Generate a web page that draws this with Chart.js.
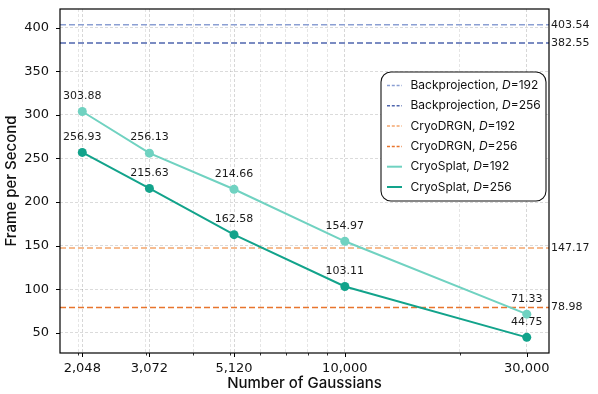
<!DOCTYPE html>
<html>
<head>
<meta charset="utf-8">
<script src="https://cdn.jsdelivr.net/npm/chart.js@4.4.0/dist/chart.umd.min.js"></script>
<style>
  html, body { margin: 0; padding: 0; background: #fff; }
  #wrap { width: 598px; height: 394px; }
</style>
</head>
<body>
<div id="wrap"><canvas id="fps"></canvas></div>
<script>
// --- data ---------------------------------------------------------
const gaussians = [2048, 3072, 5120, 10000, 30000];
const splatD192 = [303.88, 256.13, 214.66, 154.97, 71.33];
const splatD256 = [256.93, 215.63, 162.58, 103.11, 44.75];

const baselineNames = ['Backprojection', 'Backprojection', 'CryoDRGN', 'CryoDRGN'];
const baselineDims = [192, 256, 192, 256];
const baselineFps = [403.54, 382.55, 147.17, 78.98];

const minorTicks = [2000, 3000, 4000, 5000, 6000, 7000, 8000, 9000, 20000];
const yTicks = [50, 100, 150, 200, 250, 300, 350, 400];

// axis limits (5% margins like the source plot)
const X_MIN = 1790, X_MAX = 34310;
const Y_MIN = 26.8, Y_MAX = 421.5;

const COLORS = {
  bp192: '#8b9fd3', bp256: '#4f66ae',
  dr192: '#f4a66e', dr256: '#e8752d',
  sp192: '#70d2c1', sp256: '#12a38b'
};
const baselineColors = [COLORS.bp192, COLORS.bp256, COLORS.dr192, COLORS.dr256];

const TICK_FONT = { family: 'DejaVu Sans', size: 13 };
const TITLE_FONT = { family: 'Inter', size: 15, weight: '500' };

// --- datasets -----------------------------------------------------
const splatSet = (vals, color, dim) => ({
  label: `CryoSplat, D=${dim}`,
  data: gaussians.map((g, i) => ({ x: g, y: vals[i] })),
  borderColor: color,
  backgroundColor: color,
  borderWidth: 2,
  pointRadius: 4.5,
  pointBorderWidth: 0,
  tension: 0,
  fill: false,
  showValues: true,
});

const datasets = [
  splatSet(splatD256, COLORS.sp256, 256),
  splatSet(splatD192, COLORS.sp192, 192),
];

baselineFps.forEach((v, i) => {
  datasets.push({
    label: `${baselineNames[i]}, D=${baselineDims[i]}`,
    data: [{ x: X_MIN, y: v }, { x: X_MAX, y: v }],
    borderColor: baselineColors[i],
    borderWidth: 1.5,
    borderDash: [6, 3],
    pointRadius: 0,
    fill: false,
    rightLabel: v.toFixed(2),
  });
});

// legend rows in the reference order
const legendRows = [
  ...baselineNames.map((n, i) => ({ name: n, dim: baselineDims[i], color: baselineColors[i], dashed: true })),
  { name: 'CryoSplat', dim: 192, color: COLORS.sp192, dashed: false },
  { name: 'CryoSplat', dim: 256, color: COLORS.sp256, dashed: false },
];

// --- decorations plugin -------------------------------------------
const decorations = {
  id: 'decorations',
  afterDatasetsDraw(chart) {
    const { ctx, chartArea: a, scales: { x, y } } = chart;
    ctx.save();

    // frame
    ctx.strokeStyle = '#000';
    ctx.lineWidth = 1.2;
    ctx.setLineDash([]);
    ctx.strokeRect(a.left, a.top, a.right - a.left, a.bottom - a.top);

    // tick marks
    ctx.lineWidth = 1;
    yTicks.forEach(v => {
      const py = Math.round(y.getPixelForValue(v)) + 0.5;
      ctx.beginPath(); ctx.moveTo(a.left - 4, py); ctx.lineTo(a.left, py); ctx.stroke();
    });
    gaussians.forEach(v => {
      const px = Math.round(x.getPixelForValue(v)) + 0.5;
      ctx.beginPath(); ctx.moveTo(px, a.bottom); ctx.lineTo(px, a.bottom + 4); ctx.stroke();
    });
    ctx.lineWidth = 0.8;
    minorTicks.forEach(v => {
      const px = Math.round(x.getPixelForValue(v)) + 0.5;
      ctx.beginPath(); ctx.moveTo(px, a.bottom); ctx.lineTo(px, a.bottom + 2.5); ctx.stroke();
    });

    // value labels above the CryoSplat points, right labels for baselines
    ctx.fillStyle = '#1a1a1a';
    ctx.font = '11px "DejaVu Sans"';
    chart.data.datasets.forEach((ds, di) => {
      const meta = chart.getDatasetMeta(di);
      if (ds.showValues) {
        ctx.textAlign = 'center';
        ctx.textBaseline = 'middle';
        meta.data.forEach((pt, i) => {
          ctx.fillText(ds.data[i].y.toFixed(2), pt.x, pt.y - 15.5);
        });
      }
      if (ds.rightLabel) {
        ctx.textAlign = 'left';
        ctx.textBaseline = 'middle';
        ctx.fillText(ds.rightLabel, a.right + 2, y.getPixelForValue(ds.data[0].y));
      }
    });

    // legend box
    const bx = a.left + 321, by = a.top + 63, bw = 165, bh = 129;
    ctx.beginPath();
    ctx.roundRect(bx, by, bw, bh, 10);
    ctx.fillStyle = '#fff';
    ctx.fill();
    ctx.strokeStyle = '#111';
    ctx.lineWidth = 1.1;
    ctx.stroke();

    const fs = 12;
    legendRows.forEach((r, i) => {
      const cy = by + 13.5 + i * 20.3;
      ctx.strokeStyle = r.color;
      ctx.lineWidth = r.dashed ? 1.5 : 2;
      ctx.setLineDash(r.dashed ? [3, 1.8] : []);
      ctx.beginPath(); ctx.moveTo(bx + 6, cy); ctx.lineTo(bx + 21, cy); ctx.stroke();
      ctx.setLineDash([]);

      ctx.fillStyle = '#111';
      ctx.textAlign = 'left';
      ctx.textBaseline = 'middle';
      let tx = bx + 29.5;
      const parts = [
        [`${r.name}, `, `${fs}px Inter`],
        ['D', `italic ${fs}px Inter`],
        [`=${r.dim}`, `${fs}px Inter`],
      ];
      parts.forEach(([t, f]) => {
        ctx.font = f;
        ctx.fillText(t, tx, cy);
        tx += ctx.measureText(t).width;
      });
    });

    ctx.restore();
  }
};

// --- chart --------------------------------------------------------
new Chart(document.getElementById('fps').getContext('2d'), {
  type: 'line',
  data: { datasets },
  plugins: [decorations],
  options: {
    responsive: true,
    maintainAspectRatio: false,
    animation: false,
    layout: { padding: { top: 9, right: 49, left: 0, bottom: 0 } },
    plugins: {
      legend: { display: false },
      tooltip: { enabled: false },
    },
    scales: {
      x: {
        type: 'logarithmic',
        min: X_MIN,
        max: X_MAX,
        afterBuildTicks: s => {
          s.ticks = [...minorTicks, ...gaussians].sort((p, q) => p - q).map(v => ({ value: v }));
        },
        afterFit: s => { s.height = 41; s.paddingLeft = 0; s.paddingRight = 0; },
        grid: {
          color: c => gaussians.includes(c.tick && c.tick.value) ? 'rgba(0,0,0,0.2)' : 'rgba(0,0,0,0.13)',
          lineWidth: 0.8,
          drawTicks: false,
        },
        border: { display: false, dash: [3, 2] },
        ticks: {
          autoSkip: false,
          maxRotation: 0,
          padding: 8,
          color: '#111',
          font: TICK_FONT,
          callback: v => gaussians.includes(v) ? v.toLocaleString('en-US') : '',
        },
        title: {
          display: true,
          text: 'Number of Gaussians',
          color: '#111',
          font: TITLE_FONT,
          padding: { top: 0, bottom: 2 },
        },
      },
      y: {
        min: Y_MIN,
        max: Y_MAX,
        afterBuildTicks: s => { s.ticks = yTicks.map(v => ({ value: v })); },
        afterFit: s => { s.width = 60; s.paddingTop = 0; s.paddingBottom = 0; },
        grid: {
          color: 'rgba(0,0,0,0.18)',
          lineWidth: 0.8,
          drawTicks: false,
        },
        border: { display: false, dash: [3, 2] },
        ticks: {
          padding: 11,
          color: '#111',
          font: TICK_FONT,
        },
        title: {
          display: true,
          text: 'Frame per Second',
          color: '#111',
          font: TITLE_FONT,
          padding: { top: 2, bottom: 0 },
        },
      },
    },
  },
});
</script>
</body>
</html>
